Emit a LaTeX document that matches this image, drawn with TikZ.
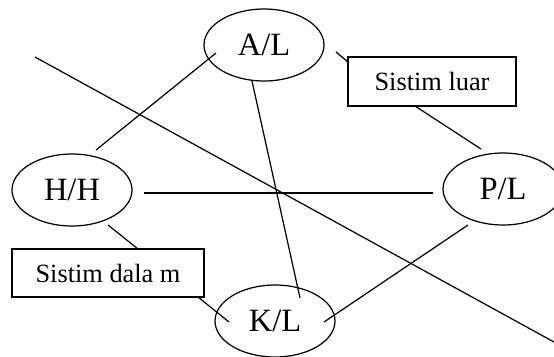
\documentclass[tikz,border=0pt]{standalone}
\usepackage{fontspec}
\setmainfont{Liberation Serif}
\usetikzlibrary{shapes.geometric}
\begin{document}
\begin{tikzpicture}[x=0.02cm, y=-0.02cm, line width=0.7pt,
  oval/.style={draw, ellipse, inner sep=0pt, minimum width=2.4cm, minimum height=1.44cm, font=\fontsize{18.5}{20}\selectfont},
  lbox/.style={draw, rectangle, inner sep=0pt, font=\fontsize{15}{17}\selectfont}]
\useasboundingbox (0,0) rectangle (554,356);
\node[oval] (A) at (264,45) {A/L};
\node[oval] (H) at (72,190) {H/H};
\node[oval] (P) at (503,189) {P/L};
\node[oval] (K) at (275,321) {K/L};
\node[lbox, minimum width=3.36cm, minimum height=0.98cm] (luar) at (432,81.5) {Sistim luar};
\node[lbox, minimum width=3.84cm, minimum height=0.96cm] (dalam) at (108,273) {Sistim dala m};
\coordinate (d1) at (35,57);
\coordinate (d2) at (560,345.3);
\draw ([shift={(-48,8)}]A.center) -- ([shift={(24,-40)}]H.center);
\draw ([shift={(-12,36)}]A.center) -- ([shift={(25,-23)}]K.center);
\draw ([shift={(72,7)}]A.center) -- ([shift={(-84,-19.5)}]luar.center);
\draw ([shift={(72,3)}]H.center) -- ([shift={(-70,4)}]P.center);
\draw ([shift={(36,35)}]H.center) -- ([shift={(30,-24)}]dalam.center);
\draw ([shift={(90,24)}]dalam.center) -- ([shift={(-46,1)}]K.center);
\draw ([shift={(49,1)}]K.center) -- ([shift={(-35,36)}]P.center);
\draw ([shift={(-17,24.5)}]luar.center) -- ([shift={(-22,-40)}]P.center);
\draw (d1) -- (d2);
\end{tikzpicture}
\end{document}
